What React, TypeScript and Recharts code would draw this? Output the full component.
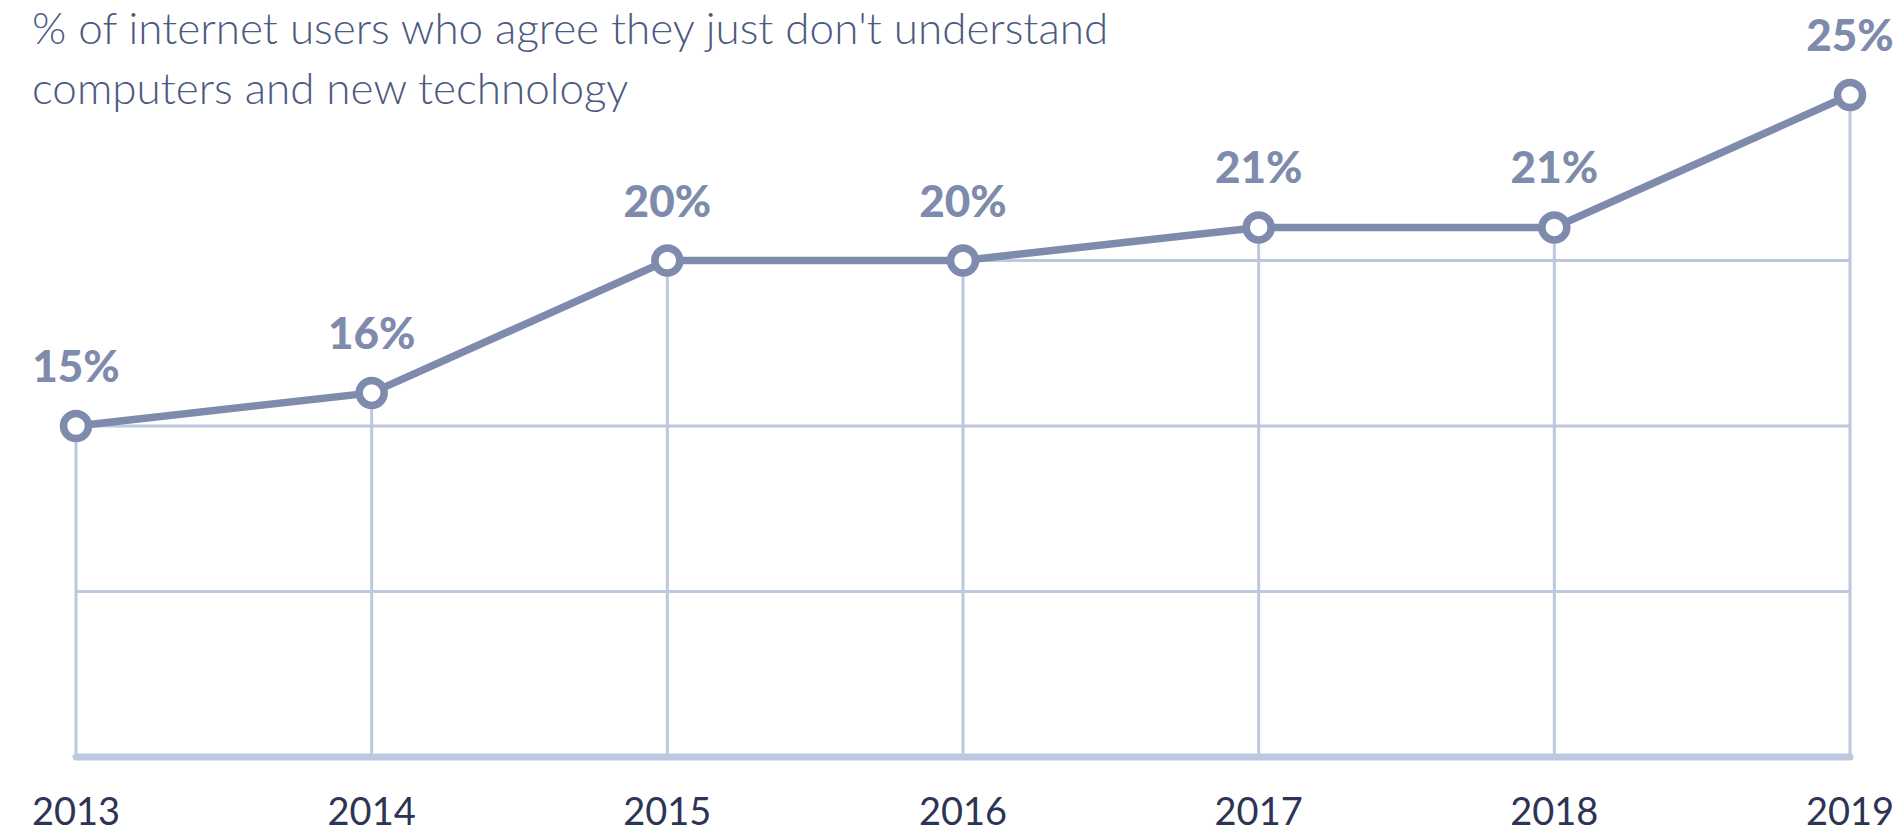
import { LineChart, Line, XAxis, YAxis, ReferenceLine, LabelList } from 'recharts';

const years = ['2013', '2014', '2015', '2016', '2017', '2018', '2019'];
const shares = [15, 16, 20, 20, 21, 21, 25];
const gridValues = [10, 15, 20];
const yDomain = [5, 25];

const lineColor = '#7F8BAC';
const gridColor = '#BCC8DE';

const data = years.map((year, i) => ({ year, value: shares[i] }));

// gridlines only run under the line: start at first year reaching the value
const gridRows = gridValues.map((v) => {
  const first = data.find((d) => d.value >= v);
  return { value: v, from: first ? first.year : years[0] };
});

function YearTick(props: any) {
  const { x, y, payload } = props;
  return (
    <text x={x} y={y + 60} textAnchor="middle" fill="#2C3553" fontSize={38} fontFamily="Lato, 'Open Sans', sans-serif">
      {payload.value}
    </text>
  );
}

function ValueLabel(props: any) {
  const { x, y, value } = props;
  return (
    <text x={x} y={y - 44} textAnchor="middle" fill={lineColor} fontSize={44} fontWeight={900} fontFamily="Lato, 'Open Sans', sans-serif">
      {value}%
    </text>
  );
}

export default function App() {
  return (
    <div style={{ position: 'absolute', left: 0, top: 0, width: 1900, height: 833, background: '#fff' }}>
      <div
        style={{
          position: 'absolute',
          left: 32,
          top: -3,
          fontFamily: "Lato, 'Open Sans', sans-serif",
          fontWeight: 300,
          fontSize: 44,
          lineHeight: '60px',
          color: '#4D5A80',
          whiteSpace: 'nowrap',
        }}
      >
        % of internet users who agree they just don't understand
        <br />
        computers and new technology
      </div>
      <LineChart width={1900} height={833} data={data} margin={{ top: 95, right: 50, bottom: 46, left: 76 }}>
        <XAxis
          dataKey="year"
          height={30}
          tickLine={false}
          axisLine={{ stroke: gridColor, strokeWidth: 7, strokeLinecap: 'round' }}
          tick={<YearTick />}
          interval={0}
        />
        <YAxis hide domain={yDomain} type="number" />
        {gridRows.map((g) => (
          <ReferenceLine
            key={'h' + g.value}
            segment={[
              { x: g.from, y: g.value },
              { x: years[years.length - 1], y: g.value },
            ]}
            stroke={gridColor}
            strokeWidth={3}
          />
        ))}
        {data.map((d) => (
          <ReferenceLine
            key={'v' + d.year}
            segment={[
              { x: d.year, y: yDomain[0] },
              { x: d.year, y: d.value },
            ]}
            stroke={gridColor}
            strokeWidth={3}
          />
        ))}
        <Line
          type="linear"
          dataKey="value"
          stroke={lineColor}
          strokeWidth={7.5}
          dot={{ r: 12.5, fill: '#fff', stroke: lineColor, strokeWidth: 7.5 }}
          activeDot={false}
          isAnimationActive={false}
        >
          <LabelList dataKey="value" content={<ValueLabel />} />
        </Line>
      </LineChart>
    </div>
  );
}
